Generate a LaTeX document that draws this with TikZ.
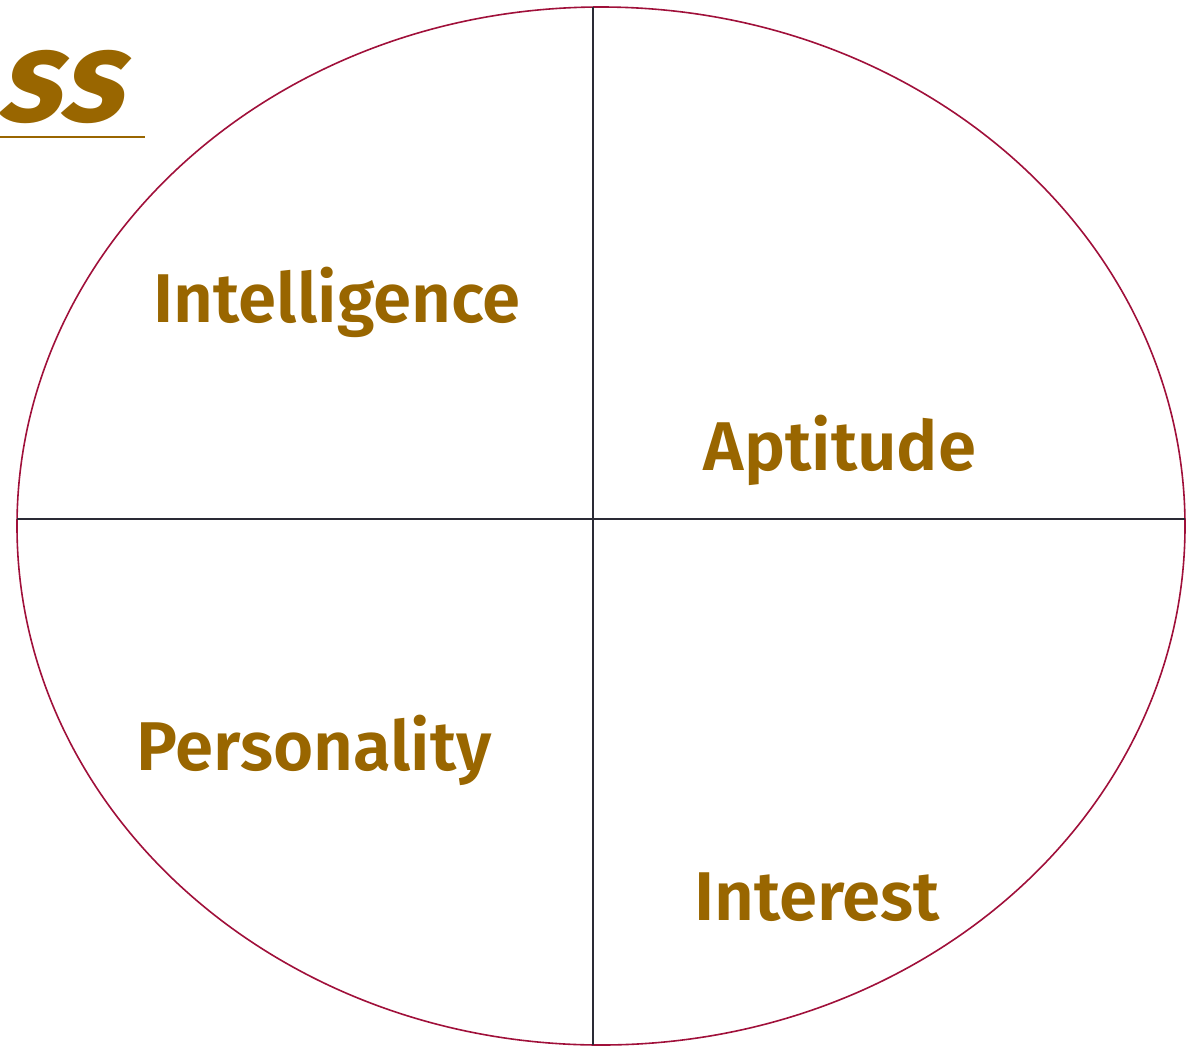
\documentclass[tikz,border=0pt]{standalone}
\usepackage{fontspec}
\usetikzlibrary{shapes.geometric}
\setmainfont{Fira Sans}[BoldFont={Fira Sans SemiBold}]
\newfontfamily\titlefont{Fira Sans Bold}[FakeSlant=0.25]
\definecolor{gold}{HTML}{996600}
\definecolor{crim}{HTML}{A0103A}
\definecolor{dark}{HTML}{2A2A35}
\begin{document}
\begin{tikzpicture}[x=1pt,y=-1pt,
  lbl/.style={text=gold,font=\fontsize{69}{80}\selectfont\bfseries,inner sep=0pt,anchor=base},
  divider/.style={draw=dark,line width=1.6pt}]
\useasboundingbox (0,0) rectangle (1191,1045);
\clip (0,0) rectangle (1191,1045);
\node[draw=crim,line width=1.6pt,ellipse,minimum width=1168pt,minimum height=1038pt,inner sep=0pt] (ov) at (601,526) {};
\coordinate (top) at (593,7);
\coordinate (bot) at (593,1045);
\coordinate (lft) at (17,519);
\coordinate (rgt) at (1185,519);
\draw[divider] (top) -- (bot);
\draw[divider] (lft) -- (rgt);
\node[lbl] (intel) at (337,322) {Intelligence};
\node[lbl] (apt) at (840,470) {Aptitude};
\node[lbl] (pers) at (314,770) {Personality};
\node[lbl] (inter) at (817,920) {Interest};
\node[text=gold,font=\fontsize{130}{140}\selectfont\titlefont,inner sep=0pt,anchor=base east] (ss) at (121,121) {ss};
\coordinate (ul1) at (0,137);
\coordinate (ul2) at (145,137);
\draw[draw=gold,line width=2pt] (ul1) -- (ul2);
\end{tikzpicture}
\end{document}
